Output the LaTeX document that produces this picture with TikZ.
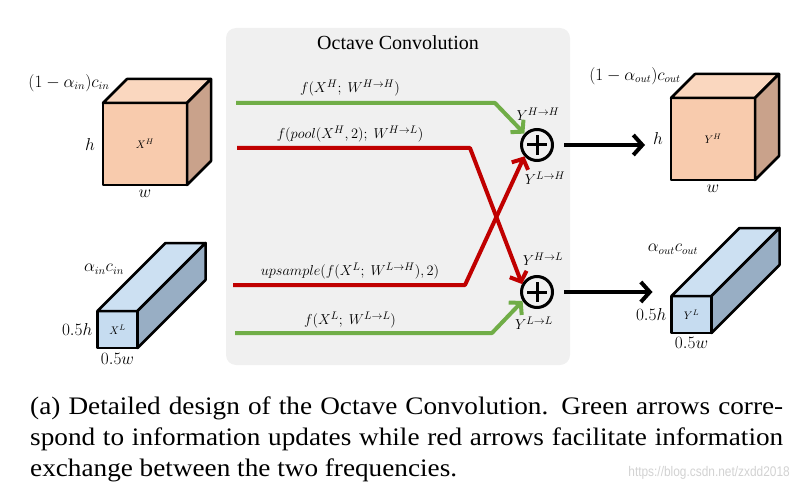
\documentclass[tikz,border=0pt]{standalone}
\usepackage{fontspec}
\setmainfont{Liberation Serif}
\setsansfont{Liberation Sans}
\newfontfamily\capfont[FakeStretch=1.08]{Liberation Serif}
\newfontfamily\markfont[FakeStretch=0.85]{Liberation Sans}
\usetikzlibrary{arrows.meta,positioning,calc}
\definecolor{peachfront}{HTML}{F8CBAD}
\definecolor{peachtop}{HTML}{FAD7BF}
\definecolor{peachside}{HTML}{C9A28B}
\definecolor{bluefront}{HTML}{C6DCF0}
\definecolor{bluetop}{HTML}{CCE0F2}
\definecolor{blueside}{HTML}{98AEC4}
\definecolor{panelgray}{HTML}{F0F0F0}
\definecolor{upgreen}{HTML}{70AD47}
\definecolor{xred}{HTML}{C00000}
\tikzset{face/.style={ % faces of the feature cubes
            draw, line width=2.5pt, line join=round},
        front/.style={
            face, rectangle, outer sep=0pt, inner sep=0pt,
            font=\fontsize{11}{13}\selectfont},
        hfront/.style={front, fill=peachfront, minimum width=84pt, minimum height=82pt},
        lfront/.style={front, fill=bluefront, minimum width=40pt, minimum height=37pt},
        lbl/.style={inner sep=0pt, font=\fontsize{15}{18}\selectfont},
        dimlbl/.style={inner sep=0pt, font=\fontsize{16}{18}\selectfont},
        panel/.style={fill=panelgray, rounded corners=10pt,
            minimum width=344pt, minimum height=337pt},
        sum/.style={circle, draw, line width=3pt, minimum size=31pt, inner sep=0pt},
        flow/.style={ % green and red arrows
            line width=4pt, line join=round,
            -{Straight Barb[length=8pt,width=18pt]}},
        outflow/.style={
            line width=4pt,
            -{Straight Barb[length=9pt,width=20pt]}}
        }

\begin{document}
\begin{tikzpicture}[x=1pt,y=-1pt]
    \useasboundingbox (0,0) rectangle (802,489);
    % middle panel
    \node[panel] (conv) at (398,196.5) {};
    \node[below=8pt of conv.north, inner sep=0pt,
        font=\fontsize{20}{22}\selectfont] (convtitle) {Octave Convolution};

    % input cubes
    \node[hfront] (XH) at (145,144) {$X^H$};
    \draw[face, fill=peachtop] (XH.north west) -- ++(24,-24) -- ++(84,0) -- (XH.north east) -- cycle;
    \draw[face, fill=peachside] (XH.north east) -- ++(24,-24) -- ++(0,82) -- (XH.south east) -- cycle;
    \node[lfront] (XL) at (117.5,329.5) {$X^L$};
    \draw[face, fill=bluetop] (XL.north west) -- ++(68,-68) -- ++(40,0) -- (XL.north east) -- cycle;
    \draw[face, fill=blueside] (XL.north east) -- ++(68,-68) -- ++(0,37) -- (XL.south east) -- cycle;

    \node[dimlbl] (cinH) at (69,83) {$(1-\alpha_{in})c_{in}$};
    \node[dimlbl, left=8pt of XH] (hinH) {$h$};
    \node[dimlbl, below=5pt of XH] (winH) {$w$};
    \node[dimlbl] (cinL) at (104,269) {$\alpha_{in}c_{in}$};
    \node[dimlbl, left=5pt of XL] (hinL) {$0.5h$};
    \node[dimlbl, below=5pt of XL] (winL) {$0.5w$};

    % output cubes
    \node[hfront] (YH) at (713,139) {$Y^H$};
    \draw[face, fill=peachtop] (YH.north west) -- ++(24,-24) -- ++(84,0) -- (YH.north east) -- cycle;
    \draw[face, fill=peachside] (YH.north east) -- ++(24,-24) -- ++(0,82) -- (YH.south east) -- cycle;
    \node[lfront] (YL) at (691.5,314.5) {$Y^L$};
    \draw[face, fill=bluetop] (YL.north west) -- ++(68,-68) -- ++(40,0) -- (YL.north east) -- cycle;
    \draw[face, fill=blueside] (YL.north east) -- ++(68,-68) -- ++(0,37) -- (YL.south east) -- cycle;

    \node[dimlbl] (coutH) at (635,76) {$(1-\alpha_{out})c_{out}$};
    \node[dimlbl, left=8pt of YH] (houtH) {$h$};
    \node[dimlbl, below=5pt of YH] (woutH) {$w$};
    \node[dimlbl] (coutL) at (673,249) {$\alpha_{out}c_{out}$};
    \node[dimlbl, left=5pt of YL] (houtL) {$0.5h$};
    \node[dimlbl, below=4pt of YL] (woutL) {$0.5w$};

    % sums
    \node[sum] (sumH) at (537,145) {};
    \node[sum] (sumL) at (537,292) {};
    \foreach \s in {sumH,sumL}
        \draw[line width=3pt] ([yshift=10pt]\s.center) -- ([yshift=-10pt]\s.center)
            ([xshift=-10pt]\s.center) -- ([xshift=10pt]\s.center);
    \node[lbl] (yhh) at (538,114) {$Y^{H\rightarrow H}$};
    \node[lbl] (ylh) at (545,178) {$Y^{L\rightarrow H}$};
    \node[lbl] (yhl) at (543,259) {$Y^{H\rightarrow L}$};
    \node[lbl] (yll) at (534,323) {$Y^{L\rightarrow L}$};

    % paths through the convolution
    \coordinate (hhin) at (236,103);
    \coordinate (hlin) at (237,148);
    \coordinate (lhin) at (233,285);
    \coordinate (llin) at (235,333);
    \draw[flow, upgreen] (hhin) -- (495,103) -- (sumH.138);
    \draw[flow, xred] (hlin) -- (470,148) -- (sumL.152);
    \draw[flow, xred] (lhin) -- (465,285) -- (sumH.222);
    \draw[flow, upgreen] (llin) -- (492,333) -- (sumL.212);
    \node[lbl] (fhh) at (350,88) {$f(X^H;\ W^{H\rightarrow H})$};
    \node[lbl] (fhl) at (350,134) {$f(pool(X^H,2);\ W^{H\rightarrow L})$};
    \node[lbl] (flh) at (350,271) {$upsample(f(X^L;\ W^{L\rightarrow H}),2)$};
    \node[lbl] (fll) at (350,320) {$f(X^L;\ W^{L\rightarrow L})$};

    % outputs
    \draw[outflow, shorten <=10pt, shorten >=26pt] (sumH.east) -- (sumH.east -| YH.west);
    \draw[outflow, shorten <=10pt, shorten >=19pt] (sumL.east) -- (sumL.east -| YL.west);

    % caption
    \node[anchor=north west, inner sep=0pt, text width=753pt, align=justify,
        font=\capfont\fontsize{25.2}{31}\selectfont] (caption) at (30,397)
        {(a) Detailed design of the Octave Convolution. Green arrows corre-\linebreak
        spond to information updates while red arrows facilitate information\linebreak
        exchange between the two frequencies.};
    \node[anchor=base east, inner sep=0pt, text=gray!35,
        font=\markfont\fontsize{14}{16}\selectfont] (mark) at (790,476) {https://blog.csdn.net/zxdd2018};
\end{tikzpicture}
\end{document}
